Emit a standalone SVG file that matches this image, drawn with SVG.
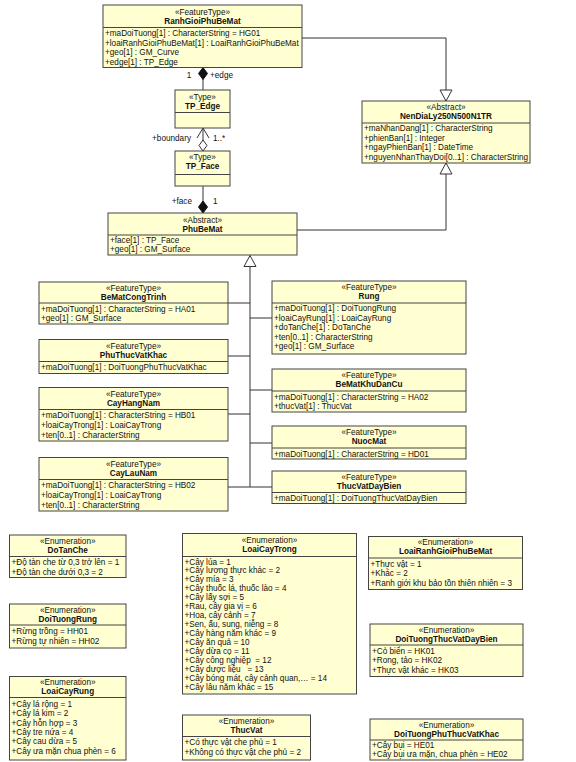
<svg xmlns="http://www.w3.org/2000/svg" width="576" height="762" viewBox="0 0 576 762">
<style>
.box{fill:#FFFFD2;stroke:#444;stroke-width:1}
.sep{stroke:#444;stroke-width:1}
text{font-family:"Liberation Sans",Arial,sans-serif;font-size:8.2px;fill:#111}
.c{text-anchor:middle}
.b{font-weight:bold}
.e{text-anchor:end}
.pre{white-space:pre}
.ln{fill:none;stroke:#333;stroke-width:1}
</style>
<defs>
<marker id="gen" markerUnits="userSpaceOnUse" markerWidth="12" markerHeight="12" viewBox="0 0 12 12" refX="11" refY="6" orient="auto" overflow="visible"><path d="M0,0 L11,6 L0,12 Z" fill="#fff" stroke="#333"/></marker>
<marker id="comp" markerUnits="userSpaceOnUse" markerWidth="12" markerHeight="9" viewBox="0 0 12 9" refX="0" refY="4.5" orient="auto" overflow="visible"><path d="M0,4.5 L6,0 L12,4.5 L6,9 Z" fill="#111" stroke="#111"/></marker>
<marker id="agg" markerUnits="userSpaceOnUse" markerWidth="11" markerHeight="8" viewBox="0 0 11 8" refX="0" refY="4" orient="auto" overflow="visible"><path d="M0,4 L5.5,0 L11,4 L5.5,8 Z" fill="#fff" stroke="#333"/></marker>
<marker id="open" markerUnits="userSpaceOnUse" markerWidth="10" markerHeight="12" viewBox="0 0 10 12" refX="10" refY="6" orient="auto" overflow="visible"><path d="M0,0 L10,6 L0,12" fill="none" stroke="#333"/></marker>
</defs>
<rect width="576" height="762" fill="#fff"/>

<g id="connectors">
<path class="ln" d="M302,38 H446 V101" marker-end="url(#gen)"/>
<path class="ln" d="M297,230 H446 V163" marker-end="url(#gen)"/>
<path class="ln" d="M203,67.5 V90" marker-start="url(#comp)"/>
<path class="ln" d="M203,151 V128" marker-start="url(#agg)" marker-end="url(#open)"/>
<path class="ln" d="M203,213 V186" marker-start="url(#comp)"/>
<path class="ln" d="M250,487 V255.5" marker-end="url(#gen)"/>
<path class="ln" d="M228,303 H250 M228,356 H250 M228,414 H250 M228,487 H250 M250,318 H272 M250,390 H272 M250,443 H272 M250,487 H272"/>
<text x="189" y="78" class="c">1</text>
<text x="210" y="78">+edge</text>
<text x="191" y="141" class="e">+boundary</text>
<text x="213" y="141">1..*</text>
<text x="192" y="204" class="e">+face</text>
<text x="213" y="204">1</text>
</g>

<g id="RanhGioiPhuBeMat">
<rect class="box" x="103" y="5" width="199" height="62.5"/>
<line class="sep" x1="103" y1="27.5" x2="302" y2="27.5"/>
<text x="202.5" y="14.5" class="c">«FeatureType»</text>
<text x="202.5" y="23.5" class="c b">RanhGioiPhuBeMat</text>
<text x="105" y="36">+maDoiTuong[1] : CharacterString = HG01</text>
<text x="105" y="45.7">+loaiRanhGioiPhuBeMat[1] : LoaiRanhGioiPhuBeMat</text>
<text x="105" y="55.4">+geo[1] : GM_Curve</text>
<text x="105" y="65.1">+edge[1] : TP_Edge</text>
</g>

<g id="TP_Edge">
<rect class="box" x="175" y="90" width="55" height="38"/>
<line class="sep" x1="175" y1="112.5" x2="230" y2="112.5"/>
<text x="202.5" y="99.5" class="c">«Type»</text>
<text x="202.5" y="108.5" class="c b">TP_Edge</text>
</g>

<g id="TP_Face">
<rect class="box" x="175" y="151" width="55" height="35"/>
<line class="sep" x1="175" y1="174.5" x2="230" y2="174.5"/>
<text x="202.5" y="160" class="c">«Type»</text>
<text x="202.5" y="169" class="c b">TP_Face</text>
</g>

<g id="NenDiaLy250N500N1TR">
<rect class="box" x="362" y="101" width="168" height="62"/>
<line class="sep" x1="362" y1="123" x2="530" y2="123"/>
<text x="446" y="110" class="c">«Abstract»</text>
<text x="446" y="119" class="c b">NenDiaLy250N500N1TR</text>
<text x="364" y="131">+maNhanDang[1] : CharacterString</text>
<text x="364" y="140.5">+phienBan[1] : Integer</text>
<text x="364" y="150">+ngayPhienBan[1] : DateTime</text>
<text x="364" y="159.5">+nguyenNhanThayDoi[0..1] : CharacterString</text>
</g>

<g id="PhuBeMat">
<rect class="box" x="108" y="213" width="189" height="42"/>
<line class="sep" x1="108" y1="235" x2="297" y2="235"/>
<text x="202.5" y="222.5" class="c">«Abstract»</text>
<text x="202.5" y="231.5" class="c b">PhuBeMat</text>
<text x="110" y="242.5">+face[1] : TP_Face</text>
<text x="110" y="252">+geo[1] : GM_Surface</text>
</g>

<g id="BeMatCongTrinh">
<rect class="box" x="39" y="282" width="189" height="42"/>
<line class="sep" x1="39" y1="303" x2="228" y2="303"/>
<text x="133.5" y="291" class="c">«FeatureType»</text>
<text x="133.5" y="300" class="c b">BeMatCongTrinh</text>
<text x="41" y="311.5">+maDoiTuong[1] : CharacterString = HA01</text>
<text x="41" y="321">+geo[1] : GM_Surface</text>
</g>

<g id="PhuThucVatKhac">
<rect class="box" x="39" y="339.5" width="189" height="34"/>
<line class="sep" x1="39" y1="361.5" x2="228" y2="361.5"/>
<text x="133.5" y="348.5" class="c">«FeatureType»</text>
<text x="133.5" y="357.5" class="c b">PhuThucVatKhac</text>
<text x="41" y="370">+maDoiTuong[1] : DoiTuongPhuThucVatKhac</text>
</g>

<g id="CayHangNam">
<rect class="box" x="39" y="387.5" width="189" height="53.5"/>
<line class="sep" x1="39" y1="409.5" x2="228" y2="409.5"/>
<text x="133.5" y="396.5" class="c">«FeatureType»</text>
<text x="133.5" y="405.5" class="c b">CayHangNam</text>
<text x="41" y="417.5">+maDoiTuong[1] : CharacterString = HB01</text>
<text x="41" y="427.5">+loaiCayTrong[1] : LoaiCayTrong</text>
<text x="41" y="437.5">+ten[0..1] : CharacterString</text>
</g>

<g id="CayLauNam">
<rect class="box" x="39" y="457.5" width="189" height="53.5"/>
<line class="sep" x1="39" y1="479.5" x2="228" y2="479.5"/>
<text x="133.5" y="466.5" class="c">«FeatureType»</text>
<text x="133.5" y="475.5" class="c b">CayLauNam</text>
<text x="41" y="487.5">+maDoiTuong[1] : CharacterString = HB02</text>
<text x="41" y="497.5">+loaiCayTrong[1] : LoaiCayTrong</text>
<text x="41" y="507.5">+ten[0..1] : CharacterString</text>
</g>

<g id="Rung">
<rect class="box" x="272" y="281" width="194" height="73"/>
<line class="sep" x1="272" y1="303" x2="466" y2="303"/>
<text x="369" y="290" class="c">«FeatureType»</text>
<text x="369" y="299" class="c b">Rung</text>
<text x="274" y="311">+maDoiTuong[1] : DoiTuongRung</text>
<text x="274" y="320.5">+loaiCayRung[1] : LoaiCayRung</text>
<text x="274" y="330">+doTanChe[1] : DoTanChe</text>
<text x="274" y="339.5">+ten[0..1] : CharacterString</text>
<text x="274" y="349">+geo[1] : GM_Surface</text>
</g>

<g id="BeMatKhuDanCu">
<rect class="box" x="272" y="369" width="194" height="43"/>
<line class="sep" x1="272" y1="391" x2="466" y2="391"/>
<text x="369" y="378" class="c">«FeatureType»</text>
<text x="369" y="387" class="c b">BeMatKhuDanCu</text>
<text x="274" y="399.5">+maDoiTuong[1] : CharacterString = HA02</text>
<text x="274" y="409">+thucVat[1] : ThucVat</text>
</g>

<g id="NuocMat">
<rect class="box" x="272" y="426" width="194" height="33"/>
<line class="sep" x1="272" y1="448" x2="466" y2="448"/>
<text x="369" y="435" class="c">«FeatureType»</text>
<text x="369" y="444" class="c b">NuocMat</text>
<text x="274" y="456.5">+maDoiTuong[1] : CharacterString = HD01</text>
</g>

<g id="ThucVatDayBien">
<rect class="box" x="272" y="471" width="194" height="32.5"/>
<line class="sep" x1="272" y1="492.5" x2="466" y2="492.5"/>
<text x="369" y="480" class="c">«FeatureType»</text>
<text x="369" y="489" class="c b">ThucVatDayBien</text>
<text x="274" y="501">+maDoiTuong[1] : DoiTuongThucVatDayBien</text>
</g>

<g id="DoTanChe">
<rect class="box" x="9.5" y="535" width="116.5" height="42.5"/>
<line class="sep" x1="9.5" y1="556.5" x2="126" y2="556.5"/>
<text x="67.75" y="543.5" class="c">«Enumeration»</text>
<text x="67.75" y="552.5" class="c b">DoTanChe</text>
<text x="11.5" y="565">+Độ tàn che từ 0,3 trở lên = 1</text>
<text x="11.5" y="574.5">+Độ tàn che dưới 0,3 = 2</text>
</g>

<g id="DoiTuongRung">
<rect class="box" x="9.5" y="604" width="116.5" height="44"/>
<line class="sep" x1="9.5" y1="625" x2="126" y2="625"/>
<text x="67.75" y="612.5" class="c">«Enumeration»</text>
<text x="67.75" y="621.5" class="c b">DoiTuongRung</text>
<text x="11.5" y="634">+Rừng trồng = HH01</text>
<text x="11.5" y="643.5">+Rừng tự nhiên = HH02</text>
</g>

<g id="LoaiCayRung">
<rect class="box" x="9.5" y="676.5" width="116.5" height="83.5"/>
<line class="sep" x1="9.5" y1="697.5" x2="126" y2="697.5"/>
<text x="67.75" y="685" class="c">«Enumeration»</text>
<text x="67.75" y="694" class="c b">LoaiCayRung</text>
<text x="11.5" y="707">+Cây lá rộng = 1</text>
<text x="11.5" y="716.3">+Cây lá kim = 2</text>
<text x="11.5" y="725.6">+Cây hỗn hợp = 3</text>
<text x="11.5" y="734.9">+Cây tre nứa = 4</text>
<text x="11.5" y="744.2">+Cây cau dừa = 5</text>
<text x="11.5" y="753.5">+Cây ưa mặn chua phèn = 6</text>
</g>

<g id="LoaiCayTrong">
<rect class="box" x="182.5" y="533.5" width="174" height="160.5"/>
<line class="sep" x1="182.5" y1="556.5" x2="356.5" y2="556.5"/>
<text x="269.5" y="542.5" class="c">«Enumeration»</text>
<text x="269.5" y="551.5" class="c b">LoaiCayTrong</text>
<text x="184.5" y="564.5">+Cây lúa = 1</text>
<text x="184.5" y="573.45">+Cây lương thực khác = 2</text>
<text x="184.5" y="582.4">+Cây mía = 3</text>
<text x="184.5" y="591.35">+Cây thuốc lá, thuốc lào = 4</text>
<text x="184.5" y="600.3">+Cây lấy sợi = 5</text>
<text x="184.5" y="609.25">+Rau, cây gia vị = 6</text>
<text x="184.5" y="618.2">+Hoa, cây cảnh = 7</text>
<text x="184.5" y="627.15">+Sen, ấu, sung, niễng = 8</text>
<text x="184.5" y="636.1">+Cây hàng năm khác = 9</text>
<text x="184.5" y="645.05">+Cây ăn quả = 10</text>
<text x="184.5" y="654">+Cây dừa cọ = 11</text>
<text x="184.5" y="662.95" class="pre" xml:space="preserve">+Cây công nghiệp  = 12</text>
<text x="184.5" y="671.9" class="pre" xml:space="preserve">+Cây dược liệu   = 13</text>
<text x="184.5" y="680.85">+Cây bóng mát, cây cảnh quan,… = 14</text>
<text x="184.5" y="689.8">+Cây lâu năm khác = 15</text>
</g>

<g id="ThucVat">
<rect class="box" x="182.5" y="715" width="128" height="45"/>
<line class="sep" x1="182.5" y1="736.5" x2="310.5" y2="736.5"/>
<text x="246.5" y="723.5" class="c">«Enumeration»</text>
<text x="246.5" y="732.5" class="c b">ThucVat</text>
<text x="184.5" y="745">+Có thực vật che phủ = 1</text>
<text x="184.5" y="754.5">+Không có thực vật che phủ = 2</text>
</g>

<g id="LoaiRanhGioiPhuBeMat">
<rect class="box" x="368.5" y="536.5" width="154" height="53"/>
<line class="sep" x1="368.5" y1="558" x2="522.5" y2="558"/>
<text x="445.5" y="545" class="c">«Enumeration»</text>
<text x="445.5" y="554" class="c b">LoaiRanhGioiPhuBeMat</text>
<text x="370.5" y="566.5">+Thực vật = 1</text>
<text x="370.5" y="576">+Khác = 2</text>
<text x="370.5" y="585.5">+Ranh giới khu bảo tồn thiên nhiên = 3</text>
</g>

<g id="DoiTuongThucVatDayBien">
<rect class="box" x="370" y="624" width="153" height="52.5"/>
<line class="sep" x1="370" y1="645" x2="523" y2="645"/>
<text x="446.5" y="632.5" class="c">«Enumeration»</text>
<text x="446.5" y="641.5" class="c b">DoiTuongThucVatDayBien</text>
<text x="372" y="653.5">+Cỏ biển = HK01</text>
<text x="372" y="663.2">+Rong, tảo = HK02</text>
<text x="372" y="672.9">+Thực vật khác = HK03</text>
</g>

<g id="DoiTuongPhuThucVatKhac">
<rect class="box" x="370" y="719" width="153" height="41"/>
<line class="sep" x1="370" y1="740" x2="523" y2="740"/>
<text x="446.5" y="727.5" class="c">«Enumeration»</text>
<text x="446.5" y="736.5" class="c b">DoiTuongPhuThucVatKhac</text>
<text x="372" y="748">+Cây bụi = HE01</text>
<text x="372" y="757.3">+Cây bụi ưa mặn, chua phèn = HE02</text>
</g>
</svg>
